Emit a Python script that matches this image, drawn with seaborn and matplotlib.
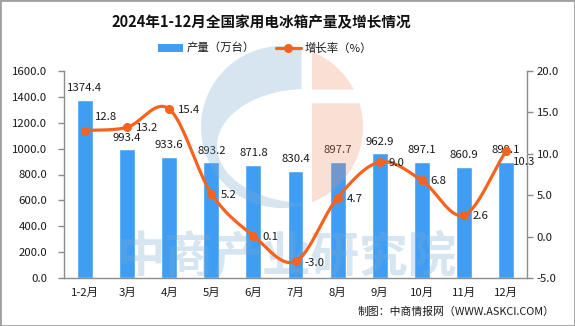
import numpy as np
import pandas as pd
import matplotlib
matplotlib.use("Agg")
import matplotlib.pyplot as plt
from matplotlib.patches import Polygon, Rectangle, Patch
from matplotlib.lines import Line2D
from matplotlib.ticker import FormatStrFormatter, MultipleLocator
import seaborn as sns

# ---- data -------------------------------------------------------------
months = ["1-2月", "3月", "4月", "5月", "6月", "7月", "8月", "9月", "10月", "11月", "12月"]
output = [1374.4, 993.4, 933.6, 893.2, 871.8, 830.4, 897.7, 962.9, 897.1, 860.9, 899.1]
growth = [12.8, 13.2, 15.4, 5.2, 0.1, -3.0, 4.7, 9.0, 6.8, 2.6, 10.3]

title = "2024年1-12月全国家用电冰箱产量及增长情况"
bar_name = "产量（万台）"
line_name = "增长率（%）"
source = "制图：中商情报网（WWW.ASKCI.COM）"
watermark = "中商产业研究院"

# ---- style ------------------------------------------------------------
sns.set_theme(style="white")
plt.rcParams["font.family"] = ["Noto Sans CJK SC", "DejaVu Sans"]
plt.rcParams["axes.unicode_minus"] = False

BAR = "#3f9ef4"
LINE = "#f5631e"
AXIS = "#8c8c8c"
TXT = "#1a1a1a"
FS = 8.2

W, H = 575, 326
fig = plt.figure(figsize=(W / 100, H / 100), dpi=100)
fig.patch.set_facecolor("white")


def fx(px):
    return px / W


def fy(py):
    return 1 - py / H


ax = fig.add_axes([fx(64), fy(278), fx(527 - 64), 207 / H])

df = pd.DataFrame({"月份": months, "产量": output, "增长率": growth})
sns.barplot(data=df, x="月份", y="产量", color=BAR, saturation=1,
            width=0.38, ax=ax, zorder=2)

ax.set_ylim(0, 1600)
ax.yaxis.set_major_locator(MultipleLocator(200))
ax.yaxis.set_major_formatter(FormatStrFormatter("%.1f"))
ax.set_xlabel("")
ax.set_ylabel("")
ax.set_xlim(-0.5, len(months) - 0.5)
ax.set_xticks(np.arange(-0.5, len(months), 1.0), minor=True)
ax.tick_params(axis="x", which="major", length=0, pad=7, labelsize=FS, colors=TXT)
ax.tick_params(axis="x", which="minor", length=4, width=1, color=AXIS, direction="out")
ax.tick_params(axis="y", length=4, width=1, color=AXIS, direction="out", pad=8,
               labelsize=FS, labelcolor=TXT)
ax.tick_params(axis="y", which="both", left=True)
for s in ["top", "right"]:
    ax.spines[s].set_visible(False)
for s in ["left", "bottom"]:
    ax.spines[s].set_color(AXIS)
    ax.spines[s].set_linewidth(1)

# bar value labels
for i, v in enumerate(output):
    ax.annotate(f"{v:.1f}", (i, v), xytext=(0, 6.3), textcoords="offset points",
                ha="center", va="baseline", fontsize=FS, color=TXT, zorder=3)

# ---- growth line on secondary axis -----------------------------------
ax2 = ax.twinx()
ax2.set_ylim(-5, 20)
ax2.yaxis.set_major_locator(MultipleLocator(5))
ax2.yaxis.set_major_formatter(FormatStrFormatter("%.1f"))
ax2.tick_params(axis="y", length=4, width=1, color=AXIS, direction="out", pad=3,
                labelsize=FS, labelcolor=TXT)
for s in ["top", "left", "bottom"]:
    ax2.spines[s].set_visible(False)
ax2.spines["right"].set_color(AXIS)
ax2.spines["right"].set_linewidth(1)


def smooth_curve(y, steps=24):
    """Cubic Hermite curve with Catmull-Rom tangents through the points."""
    y = np.asarray(y, float)
    n = len(y)
    m = np.empty(n)
    m[1:-1] = (y[2:] - y[:-2]) / 2
    m[0] = y[1] - y[0]
    m[-1] = y[-1] - y[-2]
    xs, ys = [], []
    for i in range(n - 1):
        t = np.linspace(0, 1, steps, endpoint=False)
        h00 = 2 * t**3 - 3 * t**2 + 1
        h10 = t**3 - 2 * t**2 + t
        h01 = -2 * t**3 + 3 * t**2
        h11 = t**3 - t**2
        xs.append(i + t)
        ys.append(h00 * y[i] + h10 * m[i] + h01 * y[i + 1] + h11 * m[i + 1])
    xs.append([n - 1])
    ys.append([y[-1]])
    return np.concatenate(xs), np.concatenate(ys)


cx, cy = smooth_curve(growth)
sns.lineplot(x=cx, y=cy, color=LINE, lw=2.3, ax=ax2, sort=False, zorder=4)
ax2.plot(np.arange(len(growth)), growth, "o", color=LINE, ms=5.5, zorder=5)
ax2.set_xlim(-0.5, len(months) - 0.5)
ax2.set_ylabel("")

# growth value labels (offsets in points)
label_offsets = {0: (7, 8), len(growth) - 1: (5, -9.5)}
for i, v in enumerate(growth):
    dx, dy = label_offsets.get(i, (6.5, -3))
    ax2.annotate(f"{v:.1f}", (i, v), xytext=(dx, dy), textcoords="offset points",
                 ha="left", va="baseline", fontsize=FS, color=TXT, zorder=6)

# ---- watermark (drawn over the bars, under the growth line) ------------
WM_BLUE = (0.47, 0.67, 0.80)
WM_PINK = (0.94, 0.55, 0.40)

cxo, cyo, r = 282.0, 127.0, 81.0
gap_l, gap_r = 302.0, 312.0
# blue "C": left part of the disc minus an inner ellipse
th = np.linspace(0, 2 * np.pi, 721)
outer = np.column_stack([cxo + r * np.cos(th), cyo - r * np.sin(th)])
ex, ey, ea, eb = 307.0, 146.0, 90.0, 57.0
left_outer = outer[outer[:, 0] <= gap_l]
left_outer = left_outer[np.argsort(np.arctan2(-(left_outer[:, 1] - cyo), left_outer[:, 0] - cxo) % (2 * np.pi))]
ell = np.column_stack([ex + ea * np.cos(th), ey - eb * np.sin(th)])
inner = ell[ell[:, 0] <= gap_l]
inner = inner[np.argsort(-(np.arctan2(-(inner[:, 1] - ey), inner[:, 0] - ex) % (2 * np.pi)))]
c_shape = np.vstack([left_outer, inner])
ax.add_patch(Polygon(np.column_stack([fx(c_shape[:, 0]), fy(c_shape[:, 1])]),
                     closed=True, transform=fig.transFigure, facecolor=WM_BLUE,
                     edgecolor="none", alpha=0.3, zorder=3.5, clip_on=False))

# pink right part split by a white band
right_outer = outer[outer[:, 0] >= gap_r]
for lo, hi in [(0, 90.0), (103.0, 400)]:
    seg = right_outer[(right_outer[:, 1] >= lo) & (right_outer[:, 1] <= hi)]
    seg = seg[np.argsort(seg[:, 1])]
    pts = np.vstack([[gap_r, seg[0, 1]], seg, [gap_r, seg[-1, 1]]])
    ax.add_patch(Polygon(np.column_stack([fx(pts[:, 0]), fy(pts[:, 1])]),
                         closed=True, transform=fig.transFigure, facecolor=WM_PINK,
                         edgecolor="none", alpha=0.28, zorder=3.5, clip_on=False))

ax.text(fx(287), fy(258), watermark, transform=fig.transFigure, ha="center",
        va="center", fontsize=35, fontweight="bold", color=WM_BLUE, alpha=0.3,
        zorder=3.5)

# ---- title, legend, source, frame -----------------------------------
fig.text(fx(261), fy(22), title, ha="center", va="center", fontsize=10.5,
         fontweight="bold", color="#111111")

handles = [
    Patch(facecolor=BAR, edgecolor="none", label=bar_name),
    Line2D([], [], color=LINE, lw=2.3, marker="o", ms=5.5, label=line_name),
]
fig.legend(handles=handles, loc="center", bbox_to_anchor=(fx(265), fy(48)),
           ncol=2, frameon=False, fontsize=FS, handlelength=2.2, handleheight=0.7,
           handletextpad=0.35, columnspacing=1.8, labelcolor=TXT)

fig.text(fx(555), fy(312), source, ha="right", va="center", fontsize=7.8, color=TXT)

fig.add_artist(Rectangle((0, 0), 1, 1, transform=fig.transFigure, fill=False,
                         edgecolor="#a0a0a0", lw=2, clip_on=False))

fig.savefig("out.png", dpi=100, facecolor="white")
